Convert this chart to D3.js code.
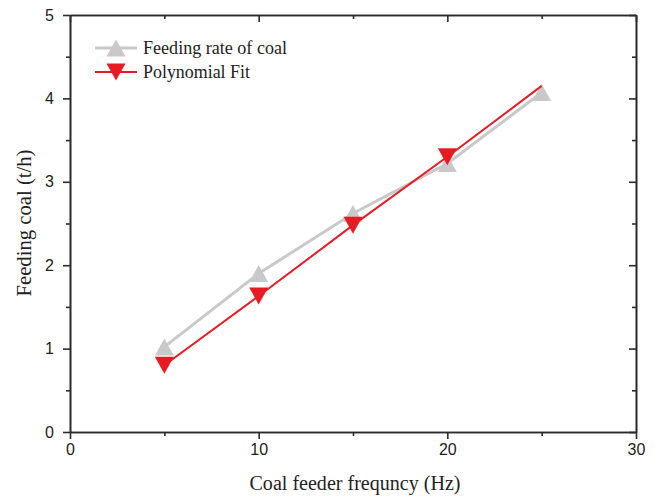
<!DOCTYPE html>
<html>
<head>
<meta charset="utf-8">
<script src="https://cdn.jsdelivr.net/npm/d3@7/dist/d3.min.js"></script>
<style>
  html, body { margin: 0; padding: 0; background: #fff; }
  svg { display: block; }
</style>
</head>
<body>
<script>
// Coal feeder frequency (Hz) and measured / fitted feeding rate (t/h)
const frequency = [5, 10, 15, 20, 25];
const feedingRate = [1.02, 1.9, 2.62, 3.22, 4.07];
const polyFit = [0.8, 1.63, 2.48, 3.3, 4.15];
const polyFitMarkerCount = 4; // symbols drawn on the first four fit points only
const xTicks = [0, 10, 20, 30];
const xMinorTicks = [5, 15, 25];
const yTicks = [0, 1, 2, 3, 4, 5];
const yMinorTicks = [0.5, 1.5, 2.5, 3.5, 4.5];
const seriesNames = ["Feeding rate of coal", "Polynomial Fit"];

const W = 655, H = 498;
const plotL = 70, plotR = 636, plotT = 15, plotB = 432;
const grey = "#c9c9c9", red = "#e81b22", axisCol = "#2b2b2b";
const serif = "'Liberation Serif', 'Times New Roman', serif";
const sans = "'Liberation Sans', Arial, sans-serif";

const svg = d3.select("body").append("svg").attr("width", W).attr("height", H);

const x = d3.scaleLinear().domain([0, 30]).range([plotL, plotR]);
const y = d3.scaleLinear().domain([0, 5]).range([plotB, plotT]);

// Frame: bottom/left axes with outward ticks, top/right mirrored inward
function axisStyle(g) {
  g.select(".domain").attr("stroke", axisCol).attr("stroke-width", 1.6);
  g.selectAll(".tick line").attr("stroke", axisCol).attr("stroke-width", 1.6);
  g.selectAll(".tick text").attr("fill", "#222").style("font-family", sans).style("font-size", "16px");
}

const gxMinor = svg.append("g").attr("transform", `translate(0,${plotB})`)
  .call(d3.axisBottom(x).tickValues(xMinorTicks).tickSize(4).tickFormat("").tickSizeOuter(0));
axisStyle(gxMinor);
const gx = svg.append("g").attr("transform", `translate(0,${plotB})`)
  .call(d3.axisBottom(x).tickValues(xTicks).tickSize(7).tickPadding(5).tickFormat(d3.format("d")).tickSizeOuter(0));
axisStyle(gx);

const gyMinor = svg.append("g").attr("transform", `translate(${plotL},0)`)
  .call(d3.axisLeft(y).tickValues(yMinorTicks).tickSize(4).tickFormat("").tickSizeOuter(0));
axisStyle(gyMinor);
const gy = svg.append("g").attr("transform", `translate(${plotL},0)`)
  .call(d3.axisLeft(y).tickValues(yTicks).tickSize(7).tickPadding(9).tickFormat(d3.format("d")).tickSizeOuter(0));
axisStyle(gy);

const gtMinor = svg.append("g").attr("transform", `translate(0,${plotT})`)
  .call(d3.axisTop(x).tickValues(xMinorTicks).tickSize(-4).tickFormat("").tickSizeOuter(0));
axisStyle(gtMinor);
const gt = svg.append("g").attr("transform", `translate(0,${plotT})`)
  .call(d3.axisTop(x).tickValues(xTicks).tickSize(-7).tickFormat("").tickSizeOuter(0));
axisStyle(gt);

const grMinor = svg.append("g").attr("transform", `translate(${plotR},0)`)
  .call(d3.axisRight(y).tickValues(yMinorTicks).tickSize(-4).tickFormat("").tickSizeOuter(0));
axisStyle(grMinor);
const gr = svg.append("g").attr("transform", `translate(${plotR},0)`)
  .call(d3.axisRight(y).tickValues(yTicks).tickSize(-7).tickFormat("").tickSizeOuter(0));
axisStyle(gr);

// Axis titles
svg.append("text")
  .attr("x", 355).attr("y", 490)
  .attr("text-anchor", "middle")
  .attr("textLength", 211).attr("lengthAdjust", "spacingAndGlyphs")
  .style("font-family", serif).style("font-size", "20px").attr("fill", "#222")
  .text("Coal feeder frequncy (Hz)");
svg.append("text")
  .attr("transform", `translate(31,223) rotate(-90)`)
  .attr("text-anchor", "middle")
  .attr("textLength", 147).attr("lengthAdjust", "spacingAndGlyphs")
  .style("font-family", serif).style("font-size", "20px").attr("fill", "#222")
  .text("Feeding coal (t/h)");

// Triangle markers centred on their bounding box
const tw = 19, th = 17;
const upTri = `M0,${-th / 2}L${tw / 2},${th / 2}L${-tw / 2},${th / 2}Z`;
const downTri = `M0,${th / 2}L${tw / 2},${-th / 2}L${-tw / 2},${-th / 2}Z`;

const rateData = frequency.map((f, i) => ({ f, v: feedingRate[i] }));
const fitData = frequency.map((f, i) => ({ f, v: polyFit[i] }));
const line = d3.line().x(d => x(d.f)).y(d => y(d.v));

// Measured feeding rate
svg.append("path").datum(rateData).attr("d", line)
  .attr("fill", "none").attr("stroke", grey).attr("stroke-width", 3);
svg.selectAll(".rate").data(rateData).join("path").attr("class", "rate")
  .attr("transform", d => `translate(${x(d.f)},${y(d.v)})`)
  .attr("d", upTri).attr("fill", grey);

// Polynomial fit
svg.append("path").datum(fitData).attr("d", line)
  .attr("fill", "none").attr("stroke", red).attr("stroke-width", 2);
svg.selectAll(".fit").data(fitData.slice(0, polyFitMarkerCount)).join("path").attr("class", "fit")
  .attr("transform", d => `translate(${x(d.f)},${y(d.v)})`)
  .attr("d", downTri).attr("fill", red);

// Legend
const legend = [
  { name: seriesNames[0], color: grey, width: 3, shape: upTri, yPos: 48, len: 144 },
  { name: seriesNames[1], color: red, width: 2, shape: downTri, yPos: 72, len: 107 }
];
const lg = svg.append("g");
legend.forEach(d => {
  lg.append("line").attr("x1", 95).attr("x2", 137).attr("y1", d.yPos).attr("y2", d.yPos)
    .attr("stroke", d.color).attr("stroke-width", d.width);
  lg.append("path").attr("transform", `translate(116,${d.yPos})`).attr("d", d.shape).attr("fill", d.color);
  lg.append("text").attr("x", 143).attr("y", d.yPos + 6)
    .attr("textLength", d.len).attr("lengthAdjust", "spacingAndGlyphs")
    .style("font-family", serif).style("font-size", "19px").attr("fill", "#222")
    .text(d.name);
});
</script>
</body>
</html>
